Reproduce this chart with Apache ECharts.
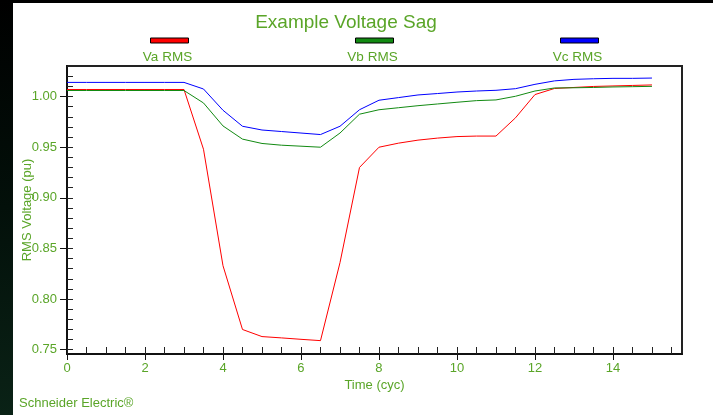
<!DOCTYPE html>
<html>
<head>
<meta charset="utf-8">
<script src="https://cdn.jsdelivr.net/npm/echarts@6/dist/echarts.min.js"></script>
<style>
  html, body { margin: 0; padding: 0; background: #ffffff; }
  #chart { width: 713px; height: 415px; }
</style>
</head>
<body>
<div id="chart"></div>
<script>
// Sample times in cycles
const timeCyc = [0, 0.5, 1, 1.5, 2, 2.5, 3, 3.5, 4, 4.5, 5, 5.5, 6, 6.5, 7, 7.5,
  8, 8.5, 9, 9.5, 10, 10.5, 11, 11.5, 12, 12.5, 13, 13.5, 14, 14.5, 15];

// Per-phase RMS voltage (pu)
const vaRms = [1.007, 1.007, 1.007, 1.007, 1.007, 1.007, 1.007, 0.948, 0.833, 0.770,
  0.763, 0.7617, 0.7603, 0.759, 0.836, 0.930, 0.950, 0.954, 0.957, 0.959, 0.9605,
  0.961, 0.961, 0.979, 1.002, 1.008, 1.009, 1.010, 1.0105, 1.011, 1.0115];
const vbRms = [1.006, 1.006, 1.006, 1.006, 1.006, 1.006, 1.006, 0.9937, 0.971, 0.958,
  0.9537, 0.952, 0.951, 0.950, 0.964, 0.9826, 0.987, 0.989, 0.991, 0.9927, 0.9944,
  0.996, 0.9967, 1.0003, 1.0055, 1.0085, 1.0087, 1.009, 1.0095, 1.0098, 1.0101];
const vcRms = [1.014, 1.014, 1.014, 1.014, 1.014, 1.014, 1.014, 1.0075, 0.9865, 0.9707,
  0.967, 0.9655, 0.964, 0.9625, 0.9707, 0.987, 0.9964, 0.999, 1.0016, 1.003, 1.0045,
  1.0055, 1.0062, 1.0078, 1.0121, 1.0155, 1.017, 1.0176, 1.018, 1.018, 1.0183];

const seriesNames = ['Va RMS', 'Vb RMS', 'Vc RMS'];
const seriesValues = [vaRms, vbRms, vcRms];
const seriesColors = ['#ff0000', '#128a12', '#0000ff'];

// Axis tick positions
const xMajorTicks = [0, 2, 4, 6, 8, 10, 12, 14];
const xMinorTicks = [0, 0.5, 1, 1.5, 2, 2.5, 3, 3.5, 4, 4.5, 5, 5.5, 6, 6.5, 7, 7.5,
  8, 8.5, 9, 9.5, 10, 10.5, 11, 11.5, 12, 12.5, 13, 13.5, 14, 14.5, 15, 15.5];
const yMajorTicks = [0.75, 0.80, 0.85, 0.90, 0.95, 1.00];
const yMinorTicks = [0.75, 0.76, 0.77, 0.78, 0.79, 0.80, 0.81, 0.82, 0.83, 0.84, 0.85,
  0.86, 0.87, 0.88, 0.89, 0.90, 0.91, 0.92, 0.93, 0.94, 0.95, 0.96, 0.97, 0.98, 0.99,
  1.00, 1.01, 1.02, 1.03];

const TEXT_GREEN = '#5aa528';
const FONT = 'Liberation Sans, Arial, sans-serif';
const X_MIN = 0, X_MAX = 15.77;
const Y_MIN = 0.7458, Y_MAX = 1.0302;

const GRID = { left: 67, right: 31, top: 66, bottom: 61 };
const chartWidth = 713;

const chart = echarts.init(document.getElementById('chart'), null, { renderer: 'canvas' });

// Legend: a swatch above each name, spread evenly across the plot width
const plotW = chartWidth - GRID.left - GRID.right;
const legendGraphics = [];
seriesNames.forEach((name, i) => {
  const cx = GRID.left + plotW * (i + 0.5) / seriesNames.length;
  legendGraphics.push({
    type: 'rect',
    shape: { x: cx - 19, y: 38, width: 38, height: 5 },
    style: { fill: seriesColors[i], stroke: '#000', lineWidth: 1 }
  });
  legendGraphics.push({
    type: 'text',
    x: cx - 2,
    y: 57,
    style: {
      text: name, fill: TEXT_GREEN, font: '13.5px ' + FONT,
      textAlign: 'center', textVerticalAlign: 'middle'
    }
  });
});

const option = {
  backgroundColor: '#ffffff',
  animation: false,
  title: {
    text: 'Example Voltage Sag',
    left: 341,
    top: 8,
    textAlign: 'center',
    textStyle: { color: TEXT_GREEN, fontFamily: FONT, fontSize: 19, fontWeight: 'normal' }
  },
  grid: {
    left: GRID.left, right: GRID.right, top: GRID.top, bottom: GRID.bottom,
    show: true, borderColor: '#222', borderWidth: 2, backgroundColor: '#fff'
  },
  xAxis: [
    {
      type: 'value', min: X_MIN, max: X_MAX, position: 'bottom',
      axisLine: { show: true, onZero: false, lineStyle: { color: '#111', width: 2 } },
      axisTick: { show: true, customValues: xMajorTicks, length: 6, inside: false,
        lineStyle: { color: '#111', width: 1 } },
      axisLabel: { customValues: xMajorTicks, color: TEXT_GREEN, fontFamily: FONT,
        fontSize: 13, margin: 8 },
      splitLine: { show: false },
      name: 'Time (cyc)', nameLocation: 'middle', nameGap: 25, nameMoveOverlap: false,
      nameTextStyle: { color: TEXT_GREEN, fontFamily: FONT, fontSize: 13 }
    },
    {
      type: 'value', min: X_MIN, max: X_MAX, position: 'bottom',
      axisLine: { show: false },
      axisTick: { show: true, customValues: xMinorTicks, length: 7, inside: true,
        lineStyle: { color: '#222', width: 1 } },
      axisLabel: { show: false },
      splitLine: { show: false }
    }
  ],
  yAxis: [
    {
      type: 'value', min: Y_MIN, max: Y_MAX, position: 'left',
      axisLine: { show: true, onZero: false, lineStyle: { color: '#111', width: 2 } },
      axisTick: { show: true, customValues: yMajorTicks, length: 7, inside: false,
        lineStyle: { color: '#111', width: 1 } },
      axisLabel: { customValues: yMajorTicks, color: TEXT_GREEN, fontFamily: FONT,
        fontSize: 13, margin: 10, formatter: v => v.toFixed(2) },
      splitLine: { show: false },
      name: 'RMS Voltage (pu)', nameLocation: 'middle', nameGap: 33, nameMoveOverlap: false,
      nameTextStyle: { color: TEXT_GREEN, fontFamily: FONT, fontSize: 13 }
    },
    {
      type: 'value', min: Y_MIN, max: Y_MAX, position: 'left',
      axisLine: { show: false },
      axisTick: { show: true, customValues: yMinorTicks, length: 6, inside: true,
        lineStyle: { color: '#222', width: 1 } },
      axisLabel: { show: false },
      splitLine: { show: false }
    }
  ],
  series: seriesNames.map((name, i) => ({
    name: name,
    type: 'line',
    xAxisIndex: 0,
    yAxisIndex: 0,
    showSymbol: false,
    symbol: 'none',
    lineStyle: { color: seriesColors[i], width: 1 },
    data: timeCyc.map((t, k) => [t, seriesValues[i][k]])
  })),
  graphic: [
    // dark frame edges
    { type: 'rect', shape: { x: 0, y: 0, width: 713, height: 3 }, style: { fill: '#000' } },
    {
      type: 'rect', shape: { x: 0, y: 0, width: 13, height: 415 },
      style: {
        fill: new echarts.graphic.LinearGradient(0, 0, 0, 1, [
          { offset: 0, color: '#000000' },
          { offset: 0.5, color: '#03100a' },
          { offset: 1, color: '#0a2216' }
        ])
      }
    },
    {
      type: 'text', x: 19, y: 403,
      style: { text: 'Schneider Electric®', fill: TEXT_GREEN, font: '13px ' + FONT,
        textVerticalAlign: 'middle' }
    }
  ].concat(legendGraphics)
};

chart.setOption(option);
</script>
</body>
</html>
